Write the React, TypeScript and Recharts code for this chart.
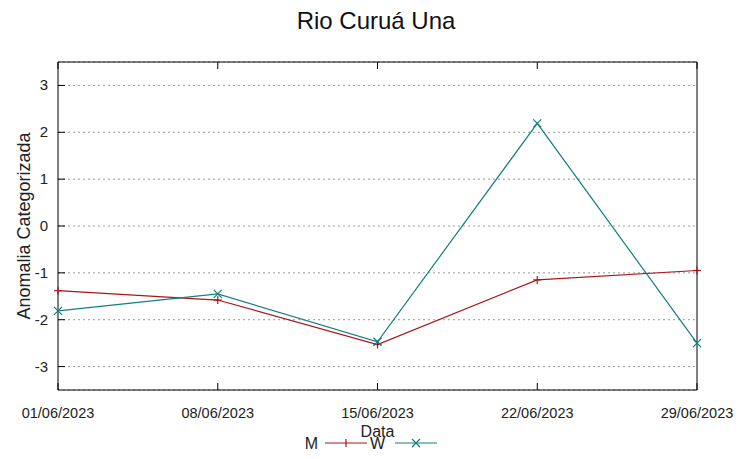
import React from "react";
import { LineChart, Line, XAxis, YAxis, CartesianGrid } from "recharts";

const dates = ["01/06/2023", "08/06/2023", "15/06/2023", "22/06/2023", "29/06/2023"];
const mValues = [-1.38, -1.58, -2.53, -1.15, -0.95];
const wValues = [-1.81, -1.45, -2.47, 2.19, -2.5];
const yTicks = [-3, -2, -1, 0, 1, 2, 3];

const data = dates.map((d, i) => ({ date: d, M: mValues[i], W: wValues[i] }));

const FONT = "'Liberation Sans', Arial, sans-serif";
const RED = "#a8161a";
const TEAL = "#12807f";

const PlusDot = (props: any) => {
  const { cx, cy } = props;
  if (cx == null || cy == null) return null;
  return (
    <g stroke={RED} strokeWidth={1.2}>
      <line x1={cx - 4} y1={cy} x2={cx + 4} y2={cy} />
      <line x1={cx} y1={cy - 4} x2={cx} y2={cy + 4} />
    </g>
  );
};

const CrossDot = (props: any) => {
  const { cx, cy } = props;
  if (cx == null || cy == null) return null;
  return (
    <g stroke={TEAL} strokeWidth={1.2}>
      <line x1={cx - 4} y1={cy - 4} x2={cx + 4} y2={cy + 4} />
      <line x1={cx - 4} y1={cy + 4} x2={cx + 4} y2={cy - 4} />
    </g>
  );
};

const LeftTick = (props: any) => {
  const { x, y, payload } = props;
  return (
    <g>
      <line x1={x + 10} y1={y} x2={x + 17} y2={y} stroke="#000" />
      <text x={x} y={y} dy={5} textAnchor="end" fontSize={15} fill="#222" fontFamily={FONT}>
        {payload.value}
      </text>
    </g>
  );
};

const RightTick = (props: any) => {
  const { x, y } = props;
  return <line x1={x} y1={y} x2={x - 7} y2={y} stroke="#000" />;
};

const TopTick = (props: any) => {
  const { x, y } = props;
  return <line x1={x} y1={y} x2={x} y2={y + 7} stroke="#000" />;
};

const BottomTick = (props: any) => {
  const { x, y, payload } = props;
  return (
    <g>
      <line x1={x} y1={y - 15} x2={x} y2={y - 22} stroke="#000" />
      <text x={x} y={y} dy={13} textAnchor="middle" fontSize={14.5} fill="#222" fontFamily={FONT}>
        {payload.value}
      </text>
    </g>
  );
};

export default function App() {
  return (
    <div style={{ position: "absolute", left: 0, top: 0, width: 752, height: 459, background: "#fff", fontFamily: FONT }}>
      <div style={{ position: "absolute", left: 0, top: 7, width: 752, textAlign: "center", fontSize: 24, color: "#111" }}>
        Rio Curuá Una
      </div>
      <LineChart
        width={752}
        height={459}
        data={data}
        margin={{ top: 61, right: 54, bottom: 39, left: 28 }}
      >
        <CartesianGrid horizontal vertical={false} stroke="#999" strokeDasharray="2 3" yAxisId="left" />
        <XAxis
          dataKey="date"
          height={30}
          tickSize={0}
          tickMargin={15}
          tick={<BottomTick />}
          axisLine={{ stroke: "#000", strokeWidth: 1 }}
          interval={0}
          label={{ value: "Data", position: "insideBottom", offset: -17, fontSize: 16, fill: "#222", fontFamily: FONT }}
        />
        <XAxis
          xAxisId="top"
          dataKey="date"
          orientation="top"
          height={1}
          tickSize={0}
          tickMargin={0}
          interval={0}
          tick={<TopTick />}
          axisLine={{ stroke: "#000", strokeWidth: 1 }}
        />
        <YAxis
          yAxisId="left"
          domain={[-3.5, 3.5]}
          ticks={yTicks}
          width={30}
          tickSize={0}
          tickMargin={10}
          tick={<LeftTick />}
          axisLine={{ stroke: "#000", strokeWidth: 1 }}
          label={{
            value: "Anomalia Categorizada",
            angle: -90,
            position: "center",
            dx: -19,
            fontSize: 18,
            fill: "#222",
            fontFamily: FONT,
          }}
        />
        <YAxis
          yAxisId="right"
          orientation="right"
          domain={[-3.5, 3.5]}
          ticks={yTicks}
          width={1}
          tickSize={0}
          tickMargin={0}
          tick={<RightTick />}
          axisLine={{ stroke: "#000", strokeWidth: 1 }}
        />
        <Line
          yAxisId="left"
          type="linear"
          dataKey="M"
          stroke={RED}
          strokeWidth={1.2}
          dot={<PlusDot />}
          activeDot={false}
          isAnimationActive={false}
        />
        <Line
          yAxisId="left"
          type="linear"
          dataKey="W"
          stroke={TEAL}
          strokeWidth={1.2}
          dot={<CrossDot />}
          activeDot={false}
          isAnimationActive={false}
        />
      </LineChart>
      <div style={{ position: "absolute", left: 0, top: 433, width: 752, height: 20 }}>
        <svg width={752} height={20} style={{ position: "absolute", left: 0, top: 0 }}>
          <text x={318} y={16} textAnchor="end" fontSize={16} fill="#222" fontFamily={FONT}>M</text>
          <line x1={325} y1={10} x2={367} y2={10} stroke={RED} strokeWidth={1.2} />
          <line x1={346} y1={6} x2={346} y2={14} stroke={RED} strokeWidth={1.2} />
          <text x={385} y={16} textAnchor="end" fontSize={16} fill="#222" fontFamily={FONT}>W</text>
          <line x1={395} y1={10} x2={437} y2={10} stroke={TEAL} strokeWidth={1.2} />
          <line x1={412} y1={6} x2={420} y2={14} stroke={TEAL} strokeWidth={1.2} />
          <line x1={412} y1={14} x2={420} y2={6} stroke={TEAL} strokeWidth={1.2} />
        </svg>
      </div>
    </div>
  );
}
